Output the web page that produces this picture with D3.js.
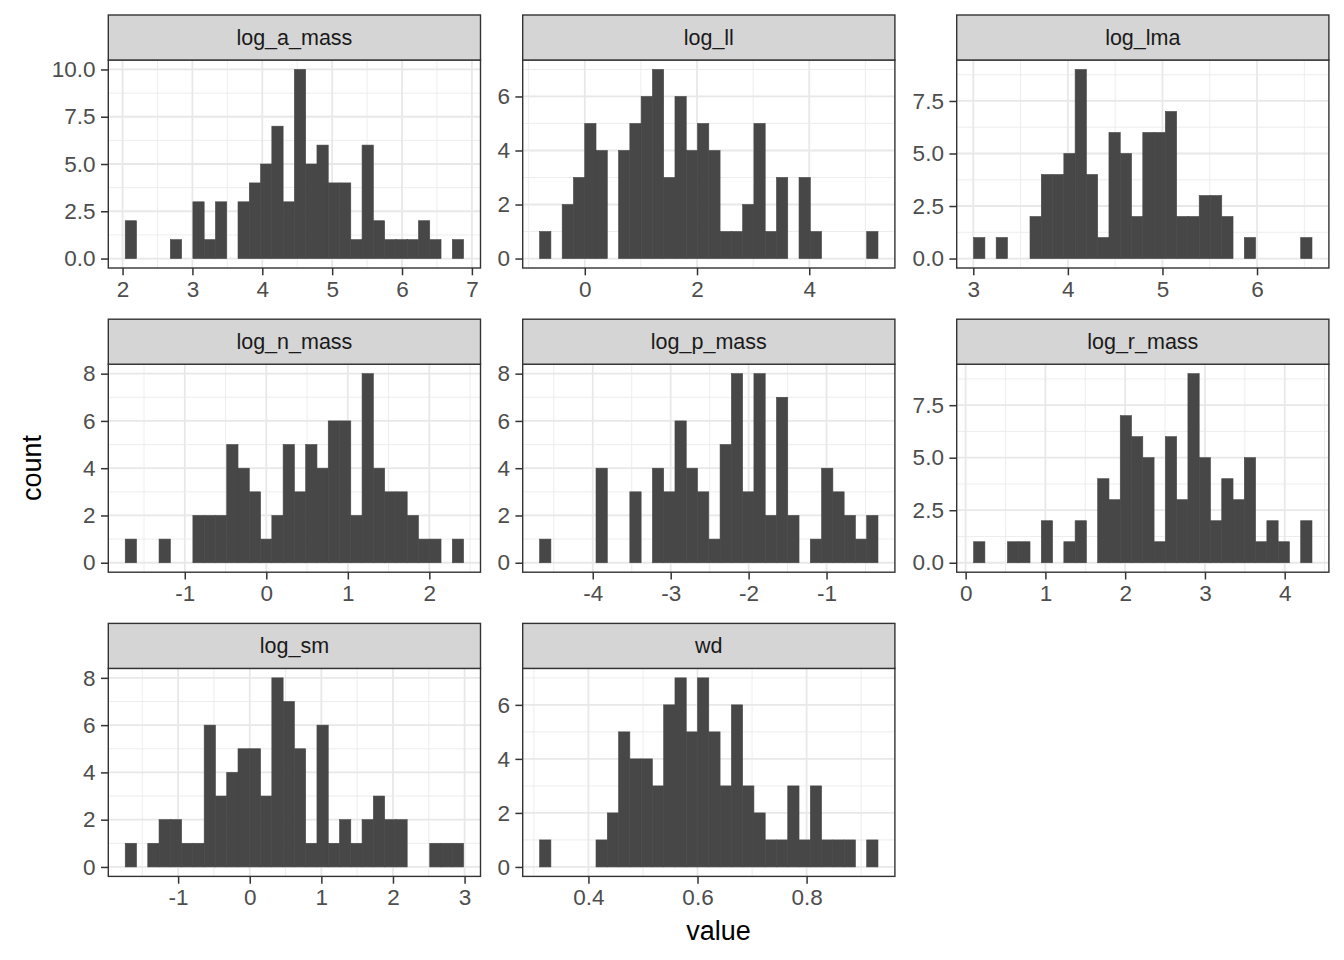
<!DOCTYPE html>
<html>
<head>
	<title>Trait histograms</title>
	<script src="https://cdn.jsdelivr.net/npm/d3@7"></script>
	<style type="text/css">
	html, body{
		margin:0;
		background:#fff;
	}
	svg text{
		font-family: "Liberation Sans", Arial, Helvetica, sans-serif;
	}
	</style>
</head>
<body>
<div id="chart"></div>
<script type="text/javascript">
// facet names, in facet_wrap order
var panelNames = ["log_a_mass", "log_ll", "log_lma", "log_n_mass", "log_p_mass", "log_r_mass", "log_sm", "wd"];

// 30 bins per facet
var logAMass = [2,0,0,0,1,0,3,1,3,0,3,4,5,7,3,10,5,6,4,4,1,6,2,1,1,1,2,1,0,1];
var logLl    = [1,0,2,3,5,4,0,4,5,6,7,3,6,4,5,4,1,1,2,5,1,3,0,3,1,0,0,0,0,1];
var logLma   = [1,0,1,0,0,2,4,4,5,9,4,1,6,5,2,6,6,7,2,2,3,3,2,0,1,0,0,0,0,1];
var logNMass = [1,0,0,1,0,0,2,2,2,5,4,3,1,2,5,3,5,4,6,6,2,8,4,3,3,2,1,1,0,1];
var logPMass = [1,0,0,0,0,4,0,0,3,0,4,3,6,4,3,1,5,8,3,8,2,7,2,0,1,4,3,2,1,2];
var logRMass = [1,0,0,1,1,0,2,0,1,2,0,4,3,7,6,5,1,6,3,9,5,2,4,3,5,1,2,1,0,2];
var logSm    = [1,0,1,2,2,1,1,6,3,4,5,5,3,8,7,5,1,6,1,2,1,2,3,2,2,0,0,1,1,1];
var wd       = [1,0,0,0,0,1,2,5,4,4,3,6,7,5,7,5,3,6,3,2,1,1,3,1,3,1,1,1,0,1];
var panelCounts = [logAMass, logLl, logLma, logNMass, logPMass, logRMass, logSm, wd];

// left edge of first bin and right edge of last bin
var binStart = [2.038, -0.805, 3.0035, -1.7306, -4.6817, 0.1001, -1.7387, 0.3105];
var binEnd   = [6.881, 5.225, 6.581, 2.420, -0.340, 4.342, 2.986, 0.9309];

// axis breaks
var xBreaks = [[2,3,4,5,6,7], [0,2,4], [3,4,5,6], [-1,0,1,2], [-4,-3,-2,-1], [0,1,2,3,4], [-1,0,1,2,3], [0.4,0.6,0.8]];
var yBreaks = [[0,2.5,5,7.5,10], [0,2,4,6], [0,2.5,5,7.5], [0,2,4,6,8], [0,2,4,6,8], [0,2.5,5,7.5], [0,2,4,6,8], [0,2,4,6]];

var W = 1344, H = 960;
var colX = [108.3, 522.7, 956.7], panelW = 372.2;
var rowY = [15, 319.2, 623.4], stripH = 45, panelH = 208;
var tickLen = 7.3, tickPad = 5.5;

var svg = d3.select("#chart").append("svg")
	.attr("width", W).attr("height", H);
svg.append("rect").attr("width", W).attr("height", H).attr("fill", "#fff");

function midpoints(br, lo, hi){
	var step = br[1] - br[0];
	var out = [];
	for (var i = -1; i < br.length; i++) {
		var m = br[0] + step * (i + 0.5);
		if (m >= lo && m <= hi) out.push(m);
	}
	return out;
}

panelNames.forEach(function(name, p){
	var col = p % 3, row = Math.floor(p / 3);
	var x0 = colX[col], top = rowY[row], py = top + stripH;
	var counts = panelCounts[p];
	var nb = counts.length;
	var bw = (binEnd[p] - binStart[p]) / nb;
	var span = binEnd[p] - binStart[p];
	var ymax = d3.max(counts);

	var xs = d3.scaleLinear()
		.domain([binStart[p] - span * 0.05, binEnd[p] + span * 0.05])
		.range([0, panelW]);
	var ys = d3.scaleLinear()
		.domain([-ymax * 0.05, ymax * 1.05])
		.range([panelH, 0]);

	var g = svg.append("g").attr("transform", "translate(" + x0 + "," + py + ")");

	// grid
	var xd = xs.domain(), yd = ys.domain();
	var xMinor = midpoints(xBreaks[p], xd[0], xd[1]);
	var yMinor = midpoints(yBreaks[p], yd[0], yd[1]);
	g.selectAll("line.xmin").data(xMinor).enter().append("line")
		.attr("x1", xs).attr("x2", xs).attr("y1", 0).attr("y2", panelH)
		.attr("stroke", "#EBEBEB").attr("stroke-width", 0.9);
	g.selectAll("line.ymin").data(yMinor).enter().append("line")
		.attr("y1", ys).attr("y2", ys).attr("x1", 0).attr("x2", panelW)
		.attr("stroke", "#EBEBEB").attr("stroke-width", 0.9);
	g.selectAll("line.xmaj").data(xBreaks[p]).enter().append("line")
		.attr("x1", xs).attr("x2", xs).attr("y1", 0).attr("y2", panelH)
		.attr("stroke", "#E8E8E8").attr("stroke-width", 1.8);
	g.selectAll("line.ymaj").data(yBreaks[p]).enter().append("line")
		.attr("y1", ys).attr("y2", ys).attr("x1", 0).attr("x2", panelW)
		.attr("stroke", "#E8E8E8").attr("stroke-width", 1.8);

	// bars
	var bins = counts.map(function(c, i){
		return {x0: binStart[p] + i * bw, x1: binStart[p] + (i + 1) * bw, n: c};
	}).filter(function(d){ return d.n > 0; });
	g.selectAll("rect.bar").data(bins).enter().append("rect")
		.attr("x", function(d){ return xs(d.x0); })
		.attr("width", function(d){ return xs(d.x1) - xs(d.x0); })
		.attr("y", function(d){ return ys(d.n); })
		.attr("height", function(d){ return ys(0) - ys(d.n); })
		.attr("fill", "#474747")
		.attr("stroke", "#474747").attr("stroke-width", 0.6);

	// border
	g.append("rect").attr("width", panelW).attr("height", panelH)
		.attr("fill", "none").attr("stroke", "#333333").attr("stroke-width", 1.4);

	// strip
	svg.append("rect").attr("x", x0).attr("y", top).attr("width", panelW).attr("height", stripH)
		.attr("fill", "#D5D5D5").attr("stroke", "#333333").attr("stroke-width", 1.4);
	svg.append("text").attr("x", x0 + panelW / 2).attr("y", top + stripH / 2)
		.attr("text-anchor", "middle").attr("dominant-baseline", "central")
		.attr("font-size", 21.5).attr("fill", "#1A1A1A").text(name);

	// axes
	var yFmt = yBreaks[p].some(function(v){ return v % 1 !== 0; }) ? d3.format(".1f") : d3.format("d");
	var xFmt = xBreaks[p].some(function(v){ return v % 1 !== 0; }) ? d3.format(".1f") : d3.format("d");
	var ya = g.append("g").call(d3.axisLeft(ys).tickValues(yBreaks[p]).tickFormat(yFmt)
		.tickSize(tickLen).tickPadding(tickPad));
	var xa = g.append("g").attr("transform", "translate(0," + panelH + ")")
		.call(d3.axisBottom(xs).tickValues(xBreaks[p])
		.tickSize(tickLen).tickPadding(tickPad));
	[ya, xa].forEach(function(a){
		a.select(".domain").remove();
		a.selectAll(".tick line").attr("stroke", "#333333").attr("stroke-width", 1.5);
		a.selectAll(".tick text").attr("fill", "#4D4D4D").attr("font-size", 22.5)
			.style("font-family", '"Liberation Sans", Arial, Helvetica, sans-serif');
	});
	ya.selectAll(".tick text").text(function(v){ return yFmt(v).replace("−", "-"); });
	xa.selectAll(".tick text").text(function(v){ return xFmt(v).replace("−", "-"); });
});

// axis titles
svg.append("text").attr("x", (colX[0] + colX[2] + panelW) / 2).attr("y", 940)
	.attr("text-anchor", "middle").attr("font-size", 27).attr("fill", "#000").text("value");
svg.append("text").attr("transform", "translate(41,468) rotate(-90)")
	.attr("text-anchor", "middle").attr("font-size", 27).attr("fill", "#000").text("count");
</script>
</body>
</html>
